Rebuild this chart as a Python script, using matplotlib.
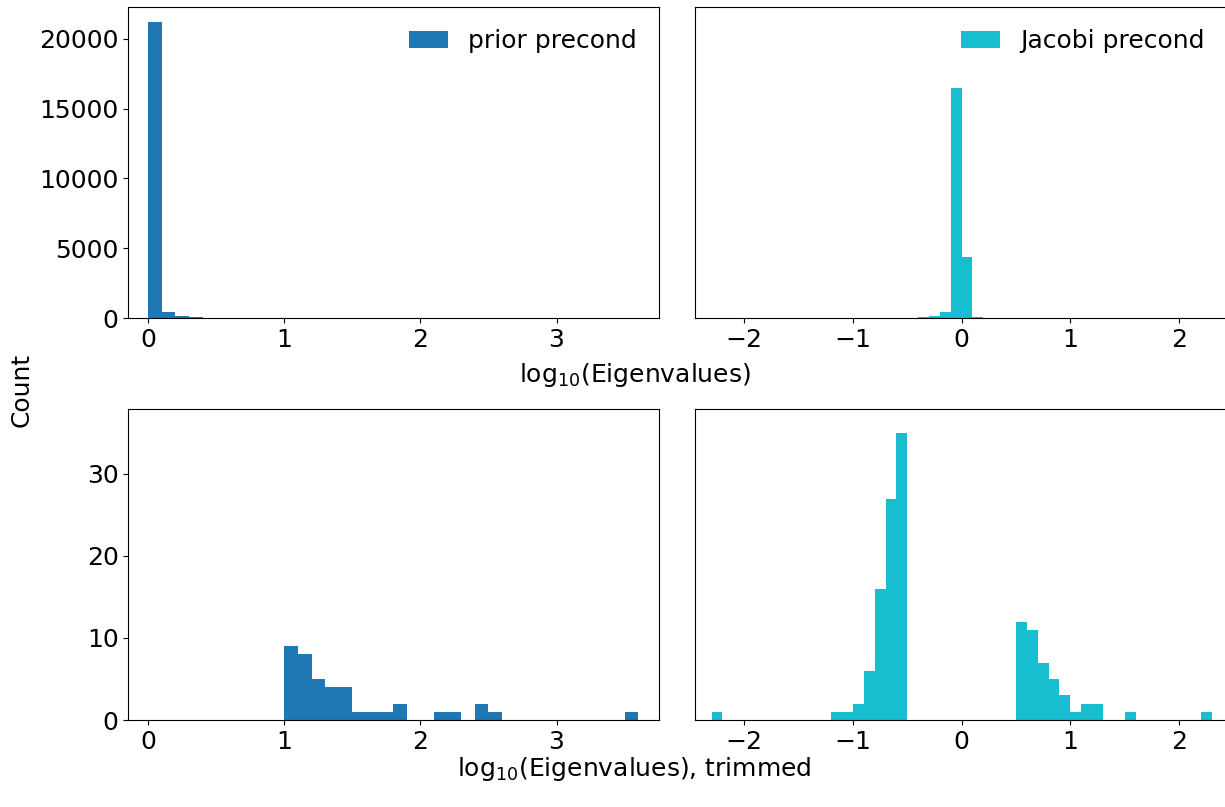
import matplotlib
matplotlib.use('Agg')
import numpy as np
import matplotlib.pyplot as plt

plt.rcParams['font.size'] = 18

# bin edges (log10 eigenvalues)
prior_edges = np.linspace(0.0, 3.6, 37)
jacobi_edges = np.linspace(-2.3, 2.3, 47)

# counts per bin
prior_counts = [21230, 430, 140, 60, 45, 30, 20, 15, 10, 10,
                9, 8, 5, 4, 4, 1, 1, 1, 2, 0,
                0, 1, 1, 0, 2, 1, 0, 0, 0, 0,
                0, 0, 0, 0, 0, 1]
prior_trim = [0, 0, 0, 0, 0, 0, 0, 0, 0, 0,
              9, 8, 5, 4, 4, 1, 1, 1, 2, 0,
              0, 1, 1, 0, 2, 1, 0, 0, 0, 0,
              0, 0, 0, 0, 0, 1]
jacobi_trim = [1, 0, 0, 0, 0, 0, 0, 0, 0, 0,
               0, 1, 1, 2, 6, 16, 27, 35, 0, 0,
               0, 0, 0, 0, 0, 0, 0, 0, 12, 11,
               7, 5, 3, 1, 2, 2, 0, 0, 1, 0,
               0, 0, 0, 0, 0, 1]
jacobi_center = [0]*18 + [55, 110, 190, 480, 16490, 4370, 110, 50, 20, 10] + [0]*18
jacobi_counts = list(np.array(jacobi_trim) + np.array(jacobi_center))

c_prior = '#1f77b4'
c_jacobi = '#17becf'

fig = plt.figure(figsize=(12.25, 8.07), dpi=100)
ax1 = fig.add_axes([0.1047, 0.6056, 0.4335, 0.3861])
ax2 = fig.add_axes([0.5676, 0.6056, 0.4340, 0.3861], sharey=ax1)
ax3 = fig.add_axes([0.1047, 0.1078, 0.4335, 0.3858])
ax4 = fig.add_axes([0.5676, 0.1078, 0.4340, 0.3858], sharey=ax3)

def centers(e):
    return (e[:-1] + e[1:]) / 2

ax1.hist(centers(prior_edges), bins=prior_edges, weights=prior_counts,
         color=c_prior, label='prior precond')
ax2.hist(centers(jacobi_edges), bins=jacobi_edges, weights=jacobi_counts,
         color=c_jacobi, label='Jacobi precond')
ax3.hist(centers(prior_edges), bins=prior_edges, weights=prior_trim, color=c_prior)
ax4.hist(centers(jacobi_edges), bins=jacobi_edges, weights=jacobi_trim, color=c_jacobi)

for ax in (ax1, ax3):
    ax.set_xlim(-0.147, 3.755)
    ax.set_xticks([0, 1, 2, 3])
for ax in (ax2, ax4):
    ax.set_xlim(-2.449, 2.44)
    ax.set_xticks([-2, -1, 0, 1, 2])
    ax.tick_params(axis='y', left=False, labelleft=False)

ax1.set_ylim(0, 22290)
ax1.set_yticks([0, 5000, 10000, 15000, 20000])
ax3.set_ylim(0, 37.96)
ax3.set_yticks([0, 10, 20, 30])

ax1.legend(loc='upper right', frameon=False, handlelength=1.55)
ax2.legend(loc='upper right', frameon=False, handlelength=1.55)

fig.text(0.518, 0.535, 'log$_{10}$(Eigenvalues)', ha='center', va='center')
fig.text(0.518, 0.047, 'log$_{10}$(Eigenvalues), trimmed', ha='center', va='center')
fig.text(0.018, 0.517, 'Count', rotation=90, ha='center', va='center')

plt.savefig('out.png', dpi=100)
